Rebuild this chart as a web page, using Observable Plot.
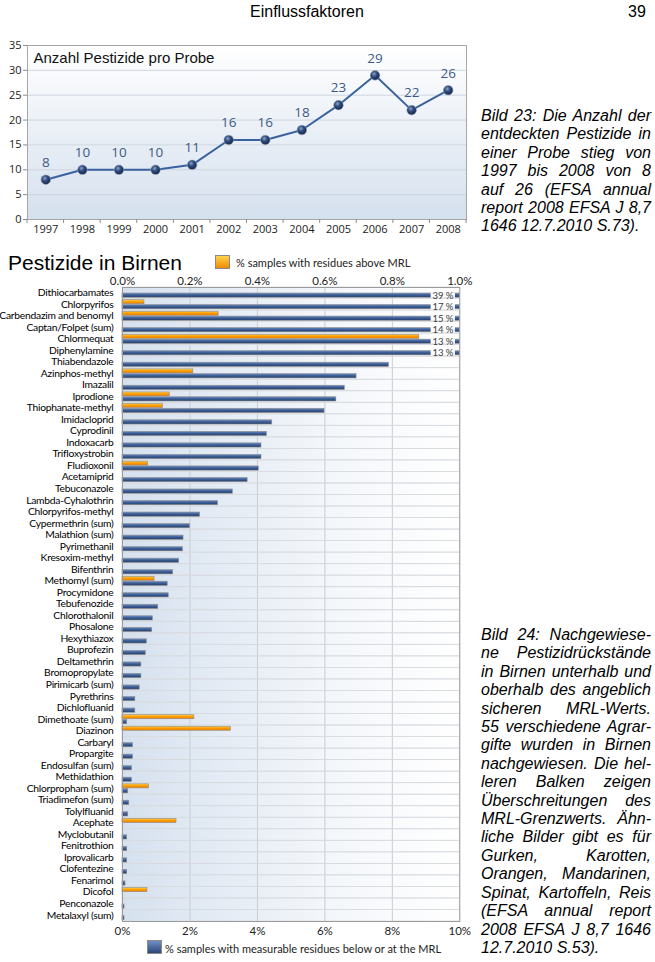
<!DOCTYPE html>
<html><head><meta charset="utf-8">
<script src="https://cdn.jsdelivr.net/npm/d3@7"></script>
<script src="https://cdn.jsdelivr.net/npm/@observablehq/plot@0.6"></script>
<style>
body{margin:0;background:#fff;}
#page{position:relative;width:655px;height:962px;overflow:hidden;font-family:"Liberation Sans",Arial,sans-serif;color:#000;}
.abs{position:absolute;white-space:nowrap;}
.cap{position:absolute;left:481px;width:170px;font-style:italic;font-size:16px;line-height:18.4px;}
.cap div{text-align:justify;text-align-last:justify;}
.cap div.last{text-align:left;text-align-last:left;}
.lg{position:absolute;font-family:Lato,sans-serif;font-size:11px;line-height:14px;color:#222;white-space:nowrap;}
.sq{position:absolute;width:15px;height:14px;box-sizing:border-box;border:1px solid #8a8a8a;}
#c1,#c2{position:absolute;left:0;}
#c1{top:0;} #c2{top:268px;}
#c2 g[aria-label="y-axis tick label"] text{letter-spacing:-0.25px;}
</style></head>
<body><div id="page">
<div class="abs" style="left:250px;top:3px;font-size:16px;line-height:18px;">Einflussfaktoren</div>
<div class="abs" style="left:628px;top:3px;font-size:16px;line-height:18px;">39</div>
<div id="c1"></div>
<div class="cap" style="top:107px;">
<div>Bild 23: Die Anzahl der</div>
<div>entdeckten Pestizide in</div>
<div>einer Probe stieg von</div>
<div>1997 bis 2008 von 8</div>
<div>auf 26 (EFSA annual</div>
<div>report 2008 EFSA J 8,7</div>
<div class="last">1646 12.7.2010 S.73).</div>
</div>
<div class="abs" style="left:8px;top:251px;font-size:21px;line-height:24px;">Pestizide in Birnen</div>
<div class="sq" style="left:215px;top:255px;background:linear-gradient(#ffd24d,#f28a00);"></div>
<div class="lg" style="left:236px;top:256px;">% samples with residues above MRL</div>
<div id="c2"></div>
<div class="sq" style="left:147px;top:940px;background:linear-gradient(#6f8fc4,#2b4778);"></div>
<div class="lg" style="left:165px;top:942px;">% samples with measurable residues below or at the MRL</div>
<div class="cap" style="top:626px;">
<div>Bild 24: Nachgewiese-</div>
<div>ne Pestizidrückstände</div>
<div>in Birnen unterhalb und</div>
<div>oberhalb des angeblich</div>
<div>sicheren MRL-Werts.</div>
<div>55 verschiedene Agrar-</div>
<div>gifte wurden in Birnen</div>
<div>nachgewiesen. Die hel-</div>
<div>leren Balken zeigen</div>
<div>Überschreitungen des</div>
<div>MRL-Grenzwerts. Ähn-</div>
<div>liche Bilder gibt es für</div>
<div>Gurken, Karotten,</div>
<div>Orangen, Mandarinen,</div>
<div>Spinat, Kartoffeln, Reis</div>
<div>(EFSA annual report</div>
<div>2008 EFSA J 8,7 1646</div>
<div class="last">12.7.2010 S.53).</div>
</div>
</div>
<script>
// ---- Chart 1 data ----
const years = ["1997","1998","1999","2000","2001","2002","2003","2004","2005","2006","2007","2008"];
const counts = [8,10,10,10,11,16,16,18,23,29,22,26];
const yTicks = [0,5,10,15,20,25,30,35];
const chart1Title = "Anzahl Pestizide pro Probe";

// ---- Chart 2 data ----
const pesticides = ["Dithiocarbamates","Chlorpyrifos","Carbendazim and benomyl","Captan/Folpet (sum)","Chlormequat","Diphenylamine","Thiabendazole","Azinphos-methyl","Imazalil","Iprodione","Thiophanate-methyl","Imidacloprid","Cyprodinil","Indoxacarb","Trifloxystrobin","Fludioxonil","Acetamiprid","Tebuconazole","Lambda-Cyhalothrin","Chlorpyrifos-methyl","Cypermethrin (sum)","Malathion (sum)","Pyrimethanil","Kresoxim-methyl","Bifenthrin","Methomyl (sum)","Procymidone","Tebufenozide","Chlorothalonil","Phosalone","Hexythiazox","Buprofezin","Deltamethrin","Bromopropylate","Pirimicarb (sum)","Pyrethrins","Dichlofluanid","Dimethoate (sum)","Diazinon","Carbaryl","Propargite","Endosulfan (sum)","Methidathion","Chlorpropham (sum)","Triadimefon (sum)","Tolylfluanid","Acephate","Myclobutanil","Fenitrothion","Iprovalicarb","Clofentezine","Fenarimol","Dicofol","Penconazole","Metalaxyl (sum)"];
// % samples with measurable residues below or at the MRL (bottom axis, 0-10%)
const belowMRL = [39,17,15,14,13,13,7.90,6.94,6.59,6.34,5.99,4.44,4.28,4.12,4.12,4.04,3.71,3.27,2.83,2.30,2.00,1.81,1.79,1.68,1.50,1.34,1.37,1.06,0.90,0.88,0.72,0.69,0.56,0.56,0.51,0.38,0.38,0.14,0,0.31,0.31,0.28,0.28,0.17,0.20,0.17,0,0.14,0.14,0.14,0.14,0.09,0,0.06,0.06];
// % samples with residues above MRL (top axis, 0-1%)
const aboveMRL = [0,0.065,0.285,0,0.88,0,0,0.21,0,0.14,0.12,0,0,0,0,0.076,0,0,0,0,0,0,0,0,0,0.095,0,0,0,0,0,0,0,0,0,0,0,0.213,0.321,0,0,0,0,0.079,0,0,0.16,0,0,0,0,0,0.074,0,0];
const xTicks = [0,2,4,6,8,10];

const rows = pesticides.map((name,i)=>({name, below: belowMRL[i], above: aboveMRL[i]}));
const pts = years.map((year,i)=>({year, count: counts[i]}));

function defs1(){
  const d = d3.create("svg:defs");
  const g = d.append("linearGradient").attr("id","bg1").attr("x1",0).attr("y1",0).attr("x2",0).attr("y2",1);
  g.append("stop").attr("offset","0%").attr("stop-color","#ffffff");
  g.append("stop").attr("offset","100%").attr("stop-color","#d5e0ee");
  const r = d.append("radialGradient").attr("id","sph").attr("cx","40%").attr("cy","35%").attr("r","65%");
  r.append("stop").attr("offset","0%").attr("stop-color","#8aa3c9");
  r.append("stop").attr("offset","45%").attr("stop-color","#2f4b7c");
  r.append("stop").attr("offset","100%").attr("stop-color","#15264a");
  return d.node();
}
function bandTicks(index, scales, values, dims){
  const g = d3.create("svg:g").attr("stroke","#8c8c8c").attr("stroke-width",1);
  const y0 = dims.height - dims.marginBottom;
  const xs = years.map(y=>scales.x(y)).concat([dims.width - dims.marginRight]);
  xs.forEach(x=>g.append("line").attr("x1",x).attr("x2",x).attr("y1",y0).attr("y2",y0+4));
  return g.node();
}

const c1 = Plot.plot({
  width: 470, height: 240,
  marginLeft: 27, marginRight: 4, marginTop: 45, marginBottom: 21,
  style: {fontFamily: "'Open Sans', sans-serif", background: "transparent"},
  x: {type: "band", domain: years, padding: 0, round: false},
  y: {domain: [0,35]},
  marks: [
    defs1,
    Plot.frame({fill: "url(#bg1)"}),
    Plot.gridY(yTicks.slice(1), {stroke: "#cfd6df", strokeOpacity: 1}),
    Plot.frame({stroke: "#a6a6a6"}),
    Plot.axisY({ticks: yTicks, tickSize: 4, tickPadding: 2, fontSize: 11, stroke: "#8c8c8c", fill: "#222", label: null}),
    Plot.axisX({tickSize: 0, tickPadding: 6, fontSize: 11, fill: "#222", label: null}),
    bandTicks,
    Plot.line(pts, {x: "year", y: "count", stroke: "#3a62a0", strokeWidth: 2}),
    Plot.dot(pts, {x: "year", y: "count", r: 4.8, fill: "url(#sph)", stroke: "#9aa9c0", strokeWidth: 0.6}),
    Plot.text(pts, {x: "year", y: "count", text: d=>String(d.count), dy: -17, fontSize: 13.5, fill: "#3d5a84"}),
    Plot.text([chart1Title], {frameAnchor: "top-left", text: d=>d, dx: 6, dy: 12.5, lineAnchor: "middle", textAnchor: "start", fontSize: 15, fill: "#111", fontFamily: "'Liberation Sans', Arial, sans-serif"})
  ]
});
document.getElementById("c1").appendChild(c1);

function defs2(){
  const d = d3.create("svg:defs");
  const g = d.append("linearGradient").attr("id","bg2").attr("x1",0).attr("y1",0).attr("x2",1).attr("y2",0);
  g.append("stop").attr("offset","0%").attr("stop-color","#d6e1ef");
  g.append("stop").attr("offset","60%").attr("stop-color","#f3f6fa");
  g.append("stop").attr("offset","100%").attr("stop-color","#ffffff");
  const b = d.append("linearGradient").attr("id","gblue").attr("x1",0).attr("y1",0).attr("x2",0).attr("y2",1);
  b.append("stop").attr("offset","0%").attr("stop-color","#6e8ec3");
  b.append("stop").attr("offset","45%").attr("stop-color","#3d5f96");
  b.append("stop").attr("offset","100%").attr("stop-color","#263f6c");
  const o = d.append("linearGradient").attr("id","gor").attr("x1",0).attr("y1",0).attr("x2",0).attr("y2",1);
  o.append("stop").attr("offset","0%").attr("stop-color","#ffd040");
  o.append("stop").attr("offset","50%").attr("stop-color","#ff9a00");
  o.append("stop").attr("offset","100%").attr("stop-color","#e98000");
  return d.node();
}

const clipped = rows.filter(d=>d.below>10);
const c2 = Plot.plot({
  width: 475, height: 672,
  marginLeft: 122, marginRight: 15.7, marginTop: 19, marginBottom: 19,
  style: {fontFamily: "Lato, sans-serif", background: "transparent"},
  x: {domain: [0,10], clamp: true},
  y: {type: "band", domain: pesticides, padding: 0, round: false},
  marks: [
    defs2,
    Plot.frame({fill: "url(#bg2)"}),
    Plot.gridX(xTicks.slice(1,-1), {stroke: "#c8ccd2", strokeOpacity: 1}),
    Plot.barX(pesticides, {y: d=>d, x1: 0, x2: 10, fill: "none", stroke: "#d7dbe0", strokeWidth: 0.8}),
    Plot.barX(rows.filter(d=>d.above>0), {y: "name", x: d=>d.above*10, fill: "url(#gor)", stroke: "#8c8c8c", strokeWidth: 0.6, insetTop: 1.2, insetBottom: 6.3}),
    Plot.barX(rows.filter(d=>d.below>0), {y: "name", x: "below", fill: "url(#gblue)", stroke: "#8c8c8c", strokeWidth: 0.6, insetTop: 6, insetBottom: 1.3}),
    Plot.barX(clipped, {y: "name", x1: 9.15, x2: 9.87, fill: "#fbfcfe", insetTop: 5.4, insetBottom: 0.8}),
    Plot.text(clipped, {y: "name", x: 9.5, text: d=>d.below+" %", dy: 2.4, fontSize: 9.5, fill: "#404040"}),
    Plot.axisY({tickSize: 0, tickPadding: 9, fontSize: 10.3, fill: "#000", dy: -0.5, label: null}),
    Plot.axisX({anchor: "bottom", ticks: xTicks, tickFormat: d=>d+"%", tickSize: 0, tickPadding: 5, fontSize: 11.5, fill: "#222", label: null}),
    Plot.axisX({anchor: "top", ticks: xTicks, tickFormat: d=>(d/10).toFixed(1)+"%", tickSize: 0, tickPadding: 3, fontSize: 11.5, fill: "#222", label: null}),
    Plot.frame({stroke: "#9a9a9a"})
  ]
});
document.getElementById("c2").appendChild(c2);
</script>
</body></html>
